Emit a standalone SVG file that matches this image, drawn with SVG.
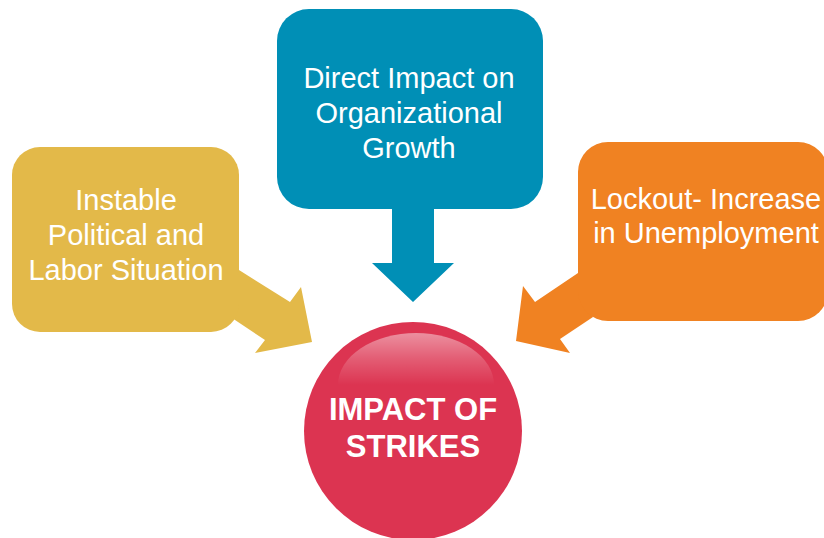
<svg xmlns="http://www.w3.org/2000/svg" width="824" height="538" viewBox="0 0 824 538">
<defs>
<linearGradient id="gloss" x1="0" y1="0" x2="0" y2="1">
<stop offset="0" stop-color="#FFFFFF" stop-opacity="0.45"/>
<stop offset="0.25" stop-color="#FFFFFF" stop-opacity="0.2"/>
<stop offset="0.5" stop-color="#FFFFFF" stop-opacity="0"/>
</linearGradient>
</defs>
<style>
.lbl{font-family:"Liberation Sans",Arial,sans-serif;font-size:29px;fill:#FFFFFF;text-anchor:middle;font-weight:300}
.ttl{font-family:"Liberation Sans",Arial,sans-serif;font-size:31px;font-weight:bold;fill:#FFFFFF;text-anchor:middle}
</style>
<rect width="824" height="538" fill="#FFFFFF"/>
<g id="connectors">
<polygon points="232,318 239,270 290,302 301,287 312,342 255,353 265,340" fill="#E3B949"/>
<polygon points="392,205 434,205 434,263 454,263 413,302 372,263 392,263" fill="#008FB6"/>
<polygon points="578,273 535,302 523,286 516,341 570,353 560,339 593,317" fill="#F08222"/>
</g>
<g id="node-political">
<rect x="12" y="147" width="227" height="185" rx="28" fill="#E3B949"/>
<text class="lbl" x="126" y="210">Instable</text>
<text class="lbl" x="126" y="245">Political and</text>
<text class="lbl" x="126" y="280">Labor Situation</text>
</g>
<g id="node-growth">
<rect x="277" y="9" width="266" height="200" rx="32" fill="#008FB6"/>
<text class="lbl" x="409" y="88">Direct Impact on</text>
<text class="lbl" x="409" y="123">Organizational</text>
<text class="lbl" x="409" y="158">Growth</text>
</g>
<g id="node-lockout">
<rect x="578" y="142" width="250" height="179" rx="30" fill="#F08222"/>
<text class="lbl" x="706" y="209">Lockout- Increase</text>
<text class="lbl" x="706" y="243">in Unemployment</text>
</g>
<g id="node-center">
<circle cx="413" cy="431" r="109" fill="#DC3451"/>
<ellipse cx="416" cy="385" rx="78" ry="52" fill="url(#gloss)"/>
<text class="ttl" x="413" y="420">IMPACT OF</text>
<text class="ttl" x="413" y="457">STRIKES</text>
</g>
</svg>
